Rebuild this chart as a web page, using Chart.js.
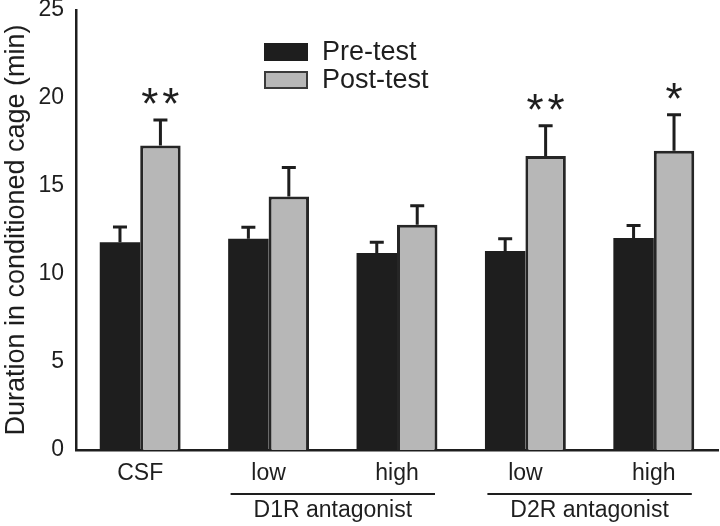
<!DOCTYPE html>
<html>
<head>
<meta charset="utf-8">
<script src="https://cdn.jsdelivr.net/npm/chart.js@4/dist/chart.umd.min.js"></script>
<style>
html,body{margin:0;padding:0;background:#fff;}
#wrap{width:720px;height:526px;position:relative;}
</style>
</head>
<body>
<div id="wrap"><canvas id="c" width="720" height="526"></canvas></div>
<script>
const categories = ["CSF", "low", "high", "low", "high"];
const preValues = [11.8, 12.0, 11.2, 11.3, 12.05];
const preErrors = [0.87, 0.65, 0.6, 0.7, 0.7];
const postValues = [17.3, 14.4, 12.8, 16.7, 17.0];
const postErrors = [1.45, 1.65, 1.08, 1.72, 2.05];
const postStars = ["**", "", "", "**", "*"];
const yTicks = [0, 5, 10, 15, 20, 25];
const groups = [
  {label: "D1R antagonist", from: 1, to: 2},
  {label: "D2R antagonist", from: 3, to: 4}
];
const legendItems = ["Pre-test", "Post-test"];

const FONT = "'Liberation Sans', Arial, sans-serif";
const INK = "#1e1e1e";
const PRE = "#1e1e1e";
const POST = "#b7b7b7";

const overlay = {
  id: "overlay",
  afterDatasetsDraw(chart) {
    const ctx = chart.ctx;
    const x = chart.scales.x, y = chart.scales.y;
    ctx.save();
    // error bars
    const sets = [{vals: preValues, errs: preErrors, idx: 0}, {vals: postValues, errs: postErrors, idx: 1}];
    ctx.strokeStyle = INK;
    ctx.lineWidth = 3;
    sets.forEach(s => {
      const meta = chart.getDatasetMeta(s.idx);
      s.vals.forEach((v, i) => {
        const bx = meta.data[i].x;
        const yt = y.getPixelForValue(v);
        const ye = y.getPixelForValue(v + s.errs[i]);
        ctx.beginPath();
        ctx.moveTo(bx, yt);
        ctx.lineTo(bx, ye);
        ctx.moveTo(bx - 7, ye);
        ctx.lineTo(bx + 7, ye);
        ctx.stroke();
      });
    });
    // stars
    const meta1 = chart.getDatasetMeta(1);
    ctx.fillStyle = INK;
    ctx.font = "44px " + FONT;
    ctx.textAlign = "center";
    ctx.textBaseline = "alphabetic";
    postStars.forEach((s, i) => {
      if (!s) return;
      const bx = meta1.data[i].x;
      const ye = y.getPixelForValue(postValues[i] + postErrors[i]);
      const n = s.length;
      for (let k = 0; k < n; k++) {
        ctx.fillText("*", bx + (k - (n - 1) / 2) * 21, ye - 1);
      }
    });
    // group lines and labels
    ctx.lineWidth = 2;
    ctx.font = "23px " + FONT;
    groups.forEach(g => {
      const x1 = x.getPixelForValue(g.from) - 38;
      const x2 = x.getPixelForValue(g.to) + 38;
      ctx.beginPath();
      ctx.moveTo(x1, 494);
      ctx.lineTo(x2, 494);
      ctx.stroke();
      ctx.textBaseline = "middle";
      ctx.fillText(g.label, (x1 + x2) / 2, 511);
    });
    // legend
    const lx = 264, ly = [43, 71];
    legendItems.forEach((t, i) => {
      ctx.fillStyle = i === 0 ? PRE : POST;
      ctx.fillRect(lx, ly[i], 44, 18);
      if (i === 1) {
        ctx.strokeStyle = "#3a3a3a";
        ctx.lineWidth = 2;
        ctx.strokeRect(lx + 1, ly[i] + 1, 42, 16);
      }
      ctx.fillStyle = INK;
      ctx.textAlign = "left";
      ctx.textBaseline = "middle";
      ctx.font = "27px " + FONT;
      ctx.fillText(t, 322, ly[i] + 10);
    });
    ctx.restore();
  }
};

new Chart(document.getElementById("c"), {
  type: "bar",
  data: {
    labels: categories,
    datasets: [
      {label: legendItems[0], data: preValues, backgroundColor: PRE, borderColor: INK, borderWidth: 0},
      {label: legendItems[1], data: postValues, backgroundColor: POST, borderColor: "#262626", borderWidth: 3}
    ]
  },
  options: {
    responsive: false,
    animation: false,
    devicePixelRatio: 1,
    layout: {padding: {top: 10, right: 2, left: 0, bottom: 0}},
    datasets: {bar: {categoryPercentage: 0.63, barPercentage: 1.0}},
    plugins: {legend: {display: false}, tooltip: {enabled: false}},
    scales: {
      x: {
        grid: {display: false, drawTicks: false},
        border: {display: true, color: INK, width: 2.5},
        ticks: {color: INK, font: {family: FONT, size: 23}, padding: 10, maxRotation: 0},
        afterFit(s) { s.height = 76; s.paddingLeft = 0; s.paddingRight = 0; }
      },
      y: {
        min: 0, max: 25,
        afterBuildTicks(s) { s.ticks = yTicks.map(v => ({value: v})); },
        grid: {display: false, drawTicks: true, tickLength: 8, tickWidth: 2.5, tickColor: INK},
        border: {display: true, color: INK, width: 2.5},
        ticks: {color: INK, font: {family: FONT, size: 23}, padding: 4},
        title: {display: true, text: "Duration in conditioned cage (min)", color: INK, font: {family: FONT, size: 27}, padding: {top: 0, bottom: 0}},
        afterFit(s) { s.width = 76; s.paddingTop = 0; s.paddingBottom = 0; }
      }
    }
  },
  plugins: [overlay]
});
</script>
</body>
</html>
